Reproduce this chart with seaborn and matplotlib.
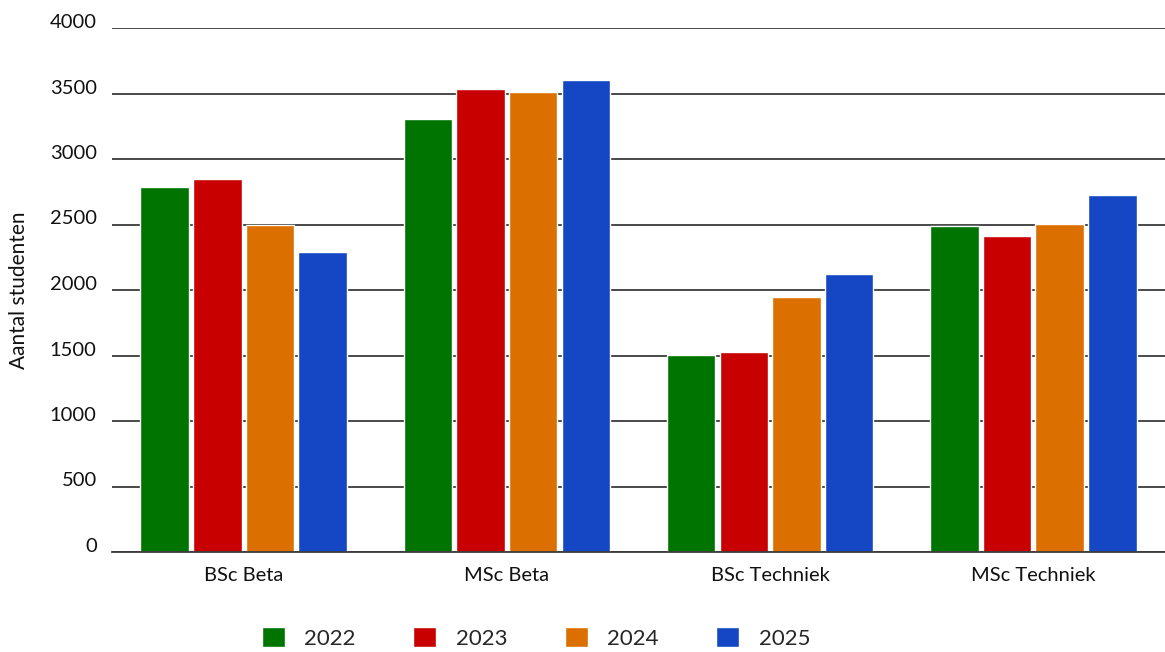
import matplotlib
matplotlib.use("Agg")
import matplotlib.pyplot as plt
import matplotlib.transforms as mtransforms
import seaborn as sns
import pandas as pd

categories = ["BSc Beta", "MSc Beta", "BSc Techniek", "MSc Techniek"]
years = ["2022", "2023", "2024", "2025"]
values_2022 = [2790, 3305, 1502, 2489]
values_2023 = [2848, 3534, 1527, 2412]
values_2024 = [2495, 3511, 1947, 2504]
values_2025 = [2290, 3603, 2122, 2725]
colors = ["#007400", "#C80000", "#DB7000", "#1547C4"]

rows = []
for y, vals in zip(years, [values_2022, values_2023, values_2024, values_2025]):
    for c, v in zip(categories, vals):
        rows.append({"cat": c, "year": y, "val": v})
df = pd.DataFrame(rows)

sns.set_theme(style="white")
plt.rcParams["font.family"] = ["Lato", "DejaVu Sans"]

fig = plt.figure(figsize=(11.65, 6.52), dpi=100)
ax = fig.add_axes([112/1165, 1 - 552/652, 1 - 112/1165, 524/652])

sns.barplot(data=df, x="cat", y="val", hue="year", order=categories,
            hue_order=years, palette=colors, width=0.8, gap=0.08,
            saturation=1, ax=ax, legend=True)

ax.set_ylim(0, 4000)
ax.set_xlim(-0.5, 3.5)
ax.set_yticks(range(0, 4001, 500))
ax.yaxis.grid(True, color="#3a3a3a", linewidth=1.3)
ax.set_axisbelow(True)
for s in ["left", "right", "top"]:
    ax.spines[s].set_visible(False)
ax.spines["bottom"].set_color("#3a3a3a")
ax.spines["bottom"].set_linewidth(1.3)
ax.tick_params(axis="both", length=0, labelsize=14.5, colors="#111111")
ax.tick_params(axis="y", pad=11)
ax.tick_params(axis="x", pad=11)
shift = mtransforms.ScaledTranslation(0, 7/100, fig.dpi_scale_trans)
for lbl in ax.get_yticklabels():
    lbl.set_transform(lbl.get_transform() + shift)
ax.set_xlabel("")
ax.set_ylabel("Aantal studenten", fontsize=15, color="#111111", labelpad=15)

handles, labels = ax.get_legend_handles_labels()
ax.get_legend().remove()
fig.legend(handles, labels, loc="center", bbox_to_anchor=(0.46, 0.022),
           ncol=4, frameon=False, fontsize=16, handlelength=1.04,
           handleheight=1.04, handletextpad=0.86, columnspacing=2.6)

fig.savefig("out.png", dpi=100)
